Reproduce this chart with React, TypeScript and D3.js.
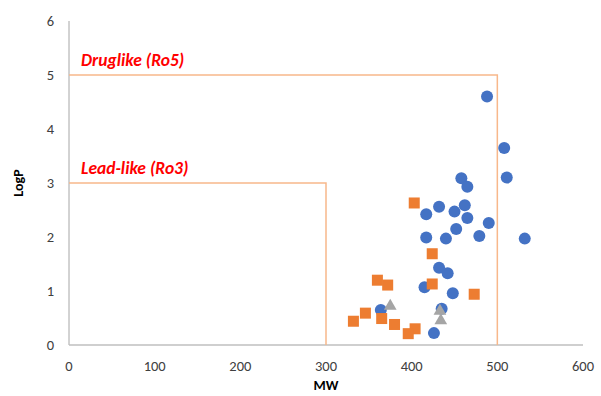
import React from 'react';
import * as d3 from 'd3';

// series: [MW, LogP]
const blueSeries: [number, number][] = [
  [488, 4.6], [508, 3.65], [511, 3.1], [458, 3.09], [465, 2.93],
  [432, 2.56], [417, 2.42], [450, 2.47], [462, 2.59], [465, 2.35],
  [490, 2.26], [452, 2.15], [417, 1.99], [440, 1.97], [479, 2.02],
  [532, 1.97], [432, 1.43], [442, 1.33], [415, 1.07], [448, 0.96],
  [364, 0.65], [435, 0.67], [426, 0.22],
];
const orangeSeries: [number, number][] = [
  [403, 2.63], [424, 1.69], [360, 1.2], [372, 1.11], [424, 1.13],
  [473, 0.94], [346, 0.59], [332, 0.44], [365, 0.49], [380, 0.38],
  [404, 0.3], [396, 0.21],
];
const graySeries: [number, number][] = [
  [375, 0.72], [433, 0.63], [434, 0.45],
];
const xTicks = [0, 100, 200, 300, 400, 500, 600];
const yTicks = [0, 1, 2, 3, 4, 5, 6];
const ro5 = { mw: 500, logp: 5, label: 'Druglike (Ro5)' };
const ro3 = { mw: 300, logp: 3, label: 'Lead-like (Ro3)' };

const font = 'Carlito, "Open Sans", "Liberation Sans", sans-serif';

const App = () => {
  const x = d3.scaleLinear().domain([0, 600]).range([69, 583]);
  const y = d3.scaleLinear().domain([0, 6]).range([345, 21]);
  const boxColor = '#F8B88B';

  const box = (b: { mw: number; logp: number }) =>
    `M${x(0)},${y(b.logp)}H${x(b.mw)}V${y(0)}`;

  const tri = d3.symbol().type(d3.symbolTriangle).size(70);

  return (
    <svg width={601} height={396} style={{ position: 'absolute', left: 0, top: 0 }}>
      <rect width={601} height={396} fill="#fff" />
      {/* axes */}
      <line x1={x(0)} x2={x(0)} y1={y(6)} y2={y(0)} stroke="#a6a6a6" strokeWidth={1} />
      <line x1={x(0)} x2={x(600)} y1={y(0)} y2={y(0)} stroke="#bfbfbf" strokeWidth={1.5} />
      {yTicks.map(t => (
        <text key={t} x={54} y={y(t)} dy="0.35em" textAnchor="end" fontSize={14.5}
          fontFamily={font} fill="#404040">{t}</text>
      ))}
      {xTicks.map(t => (
        <text key={t} x={x(t)} y={366} dy="0.35em" textAnchor="middle" fontSize={14.5}
          fontFamily={font} fill="#404040">{t}</text>
      ))}
      <text x={326} y={385} dy="0.35em" textAnchor="middle" fontSize={14} fontWeight="bold"
        fontFamily={font} fill="#000">MW</text>
      <text transform={`translate(18,${y(3)}) rotate(-90)`} dy="0.35em" textAnchor="middle"
        fontSize={14} fontWeight="bold" fontFamily={font} fill="#000">LogP</text>

      {/* rule boxes */}
      <path d={box(ro5)} fill="none" stroke={boxColor} strokeWidth={1.5} />
      <path d={box(ro3)} fill="none" stroke={boxColor} strokeWidth={1.5} />
      <text x={81} y={y(ro5.logp) - 9} fontSize={17.5} fontWeight="bold" fontStyle="italic"
        fontFamily={font} fill="#ff0000">{ro5.label}</text>
      <text x={81} y={y(ro3.logp) - 9} fontSize={17.5} fontWeight="bold" fontStyle="italic"
        fontFamily={font} fill="#ff0000">{ro3.label}</text>

      {/* points */}
      {blueSeries.map((d, i) => (
        <circle key={'b' + i} cx={x(d[0])} cy={y(d[1])} r={6} fill="#4472C4" />
      ))}
      {orangeSeries.map((d, i) => (
        <rect key={'o' + i} x={x(d[0]) - 5.5} y={y(d[1]) - 5.5} width={11} height={11} fill="#ED7D31" />
      ))}
      {graySeries.map((d, i) => (
        <path key={'g' + i} d={tri() as string} transform={`translate(${x(d[0])},${y(d[1])})`} fill="#A5A5A5" />
      ))}
    </svg>
  );
};

export default App;
